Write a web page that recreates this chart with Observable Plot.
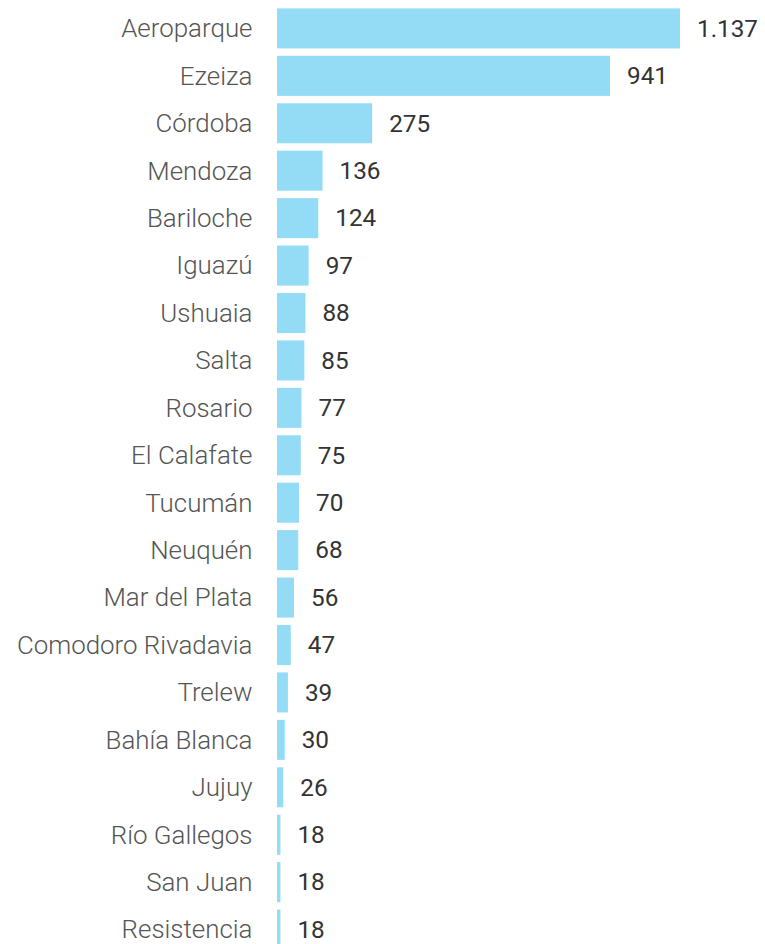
<!DOCTYPE html>
<html>
<head>
<meta charset="utf-8">
<script src="https://cdn.jsdelivr.net/npm/d3@7"></script>
<script src="https://cdn.jsdelivr.net/npm/@observablehq/plot@0.6"></script>
<style>
  html, body { margin: 0; padding: 0; overflow: hidden; background: #fff; }
  #chart svg { display: block; }
</style>
</head>
<body>
<div id="chart"></div>
<script>
const airports = ["Aeroparque", "Ezeiza", "Córdoba", "Mendoza", "Bariloche", "Iguazú", "Ushuaia", "Salta", "Rosario", "El Calafate", "Tucumán", "Neuquén", "Mar del Plata", "Comodoro Rivadavia", "Trelew", "Bahía Blanca", "Jujuy", "Río Gallegos", "San Juan", "Resistencia"];
const values = [1137, 941, 275, 136, 124, 97, 88, 85, 77, 75, 70, 68, 56, 47, 39, 30, 26, 18, 18, 18];

const data = airports.map((name, i) => ({name, value: values[i]}));
const fmt = d3.formatLocale({decimal: ",", thousands: ".", grouping: [3], currency: ["$", ""]}).format(",d");

const chart = Plot.plot({
  width: 765,
  height: 957,
  marginTop: 1,
  marginBottom: 0,
  marginLeft: 274,
  marginRight: 85,
  style: {fontFamily: "Roboto, sans-serif", background: "#fff"},
  x: {domain: [0, d3.max(values)], axis: null},
  y: {domain: airports, padding: 0.156, round: false, axis: null},
  marks: [
    Plot.barX(data, {y: "name", x: "value", fill: "#94dcf5", insetLeft: 3}),
    Plot.text(data, {y: "name", x: 0, text: "name", textAnchor: "end", dx: -22, fontSize: 25.9, fontWeight: 300, fill: "#555"}),
    Plot.text(data, {y: "name", x: "value", text: d => fmt(d.value), textAnchor: "start", dx: 16.5, fontSize: 24.3, fontWeight: 400, fill: "#333"})
  ]
});
document.getElementById("chart").appendChild(chart);
</script>
</body>
</html>
